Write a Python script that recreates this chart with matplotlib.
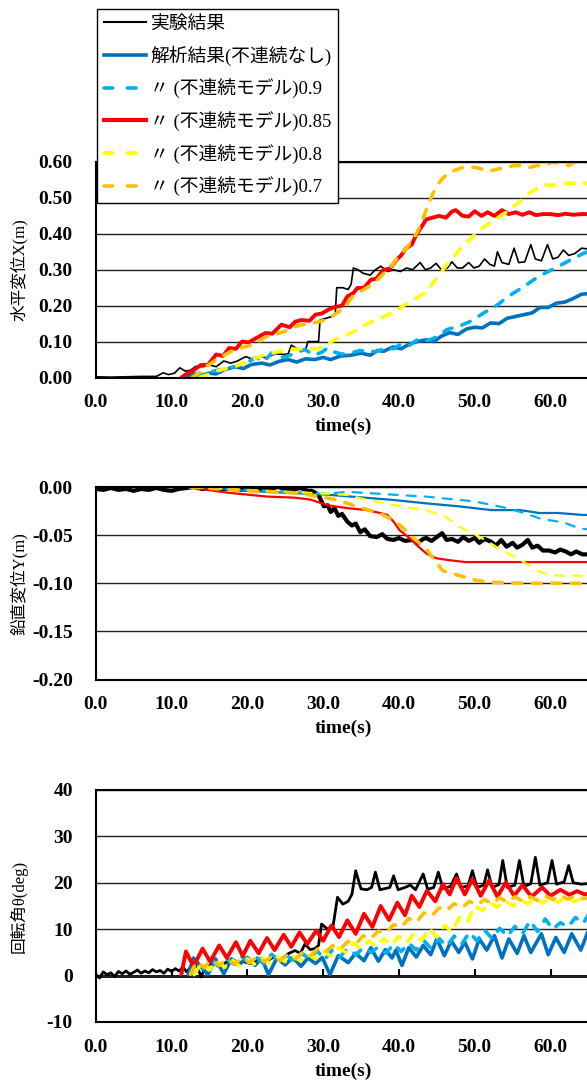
import matplotlib
matplotlib.use('Agg')
import matplotlib.pyplot as plt
from matplotlib.lines import Line2D
from matplotlib.font_manager import FontProperties
from matplotlib.ticker import FormatStrFormatter, MultipleLocator

plt.rcParams['axes.unicode_minus'] = False
plt.rcParams['lines.scale_dashes'] = False

#%% 水平変位 X(m)  (time, value)
x_exp = [(0, 0.002), (2, 0.001), (4, 0.002), (6, 0.003), (8, 0.003), (8.9, 0.013), (9.6, 0.008),
         (10.4, 0.012), (11.1, 0.027), (11.8, 0.018), (12.5, 0.02), (13.2, 0.031), (14.2, 0.03),
         (15.0, 0.035), (15.9, 0.03), (16.9, 0.046), (17.8, 0.04), (18.6, 0.045), (19.8, 0.058),
         (20.8, 0.05), (21.6, 0.058), (22.5, 0.055), (23.7, 0.066), (24.8, 0.064), (25.4, 0.066),
         (25.8, 0.09), (26.6, 0.08), (27.3, 0.078), (27.7, 0.078), (28.0, 0.1), (28.8, 0.1),
         (29.4, 0.1), (29.6, 0.16), (30.4, 0.165), (31.2, 0.17), (31.6, 0.175), (31.8, 0.25),
         (32.6, 0.25), (33.3, 0.245), (33.7, 0.26), (34.0, 0.305), (34.6, 0.3), (35.3, 0.29),
         (36.2, 0.285), (36.9, 0.3), (37.6, 0.31), (38.5, 0.295), (39.3, 0.3), (40.2, 0.295),
         (41.0, 0.305), (41.8, 0.3), (42.8, 0.32), (43.5, 0.3), (44.2, 0.305), (44.9, 0.318),
         (45.6, 0.3), (46.4, 0.305), (47.0, 0.322), (47.7, 0.305), (48.4, 0.305), (49.2, 0.32),
         (49.9, 0.305), (50.6, 0.31), (51.3, 0.33), (52.0, 0.315), (52.6, 0.31), (53.0, 0.35),
         (53.6, 0.32), (54.5, 0.315), (55.2, 0.36), (55.8, 0.32), (56.6, 0.322), (57.4, 0.37),
         (58.0, 0.33), (58.8, 0.325), (59.6, 0.37), (60.3, 0.33), (61.0, 0.335), (61.7, 0.355),
         (62.4, 0.34), (63.2, 0.345), (64.1, 0.36), (66, 0.355)]
x_none = [(12.0, 0.0), (13.0, 0.01), (14.0, 0.006), (15.0, 0.012), (15.9, 0.01), (17.0, 0.022),
          (18.4, 0.03), (19.5, 0.025), (20.5, 0.036), (21.9, 0.04), (23.0, 0.035), (24.2, 0.045),
          (25.4, 0.05), (26.5, 0.043), (27.7, 0.052), (28.9, 0.05), (30.0, 0.056), (31.0, 0.05),
          (32.3, 0.06), (33.7, 0.062), (35.0, 0.068), (36.2, 0.062), (37.2, 0.075), (38.0, 0.073),
          (39.2, 0.085), (40.3, 0.08), (41.3, 0.092), (42.4, 0.1), (43.6, 0.105), (44.6, 0.1),
          (45.6, 0.115), (46.7, 0.125), (47.8, 0.12), (48.9, 0.135), (50.0, 0.14), (51.0, 0.138),
          (52.1, 0.152), (53.2, 0.15), (54.3, 0.165), (55.4, 0.17), (56.5, 0.175), (57.6, 0.18),
          (58.6, 0.195), (59.7, 0.195), (60.8, 0.207), (61.9, 0.21), (63.0, 0.22), (64.1, 0.232),
          (66, 0.235)]
x_090 = [(13.0, 0.0), (14.5, 0.012), (16.0, 0.02), (17.5, 0.025), (19.0, 0.035), (20.2, 0.045),
         (21.1, 0.055), (22.2, 0.045), (23.2, 0.068), (24.3, 0.055), (25.4, 0.06), (26.5, 0.07),
         (27.6, 0.078), (28.8, 0.062), (29.8, 0.07), (30.6, 0.082), (31.6, 0.07), (32.5, 0.065),
         (33.7, 0.068), (34.8, 0.075), (35.8, 0.073), (37.0, 0.072), (38.3, 0.082), (39.3, 0.08),
         (40.2, 0.092), (41.3, 0.088), (42.4, 0.105), (43.3, 0.1), (44.1, 0.105), (45.2, 0.115),
         (46.3, 0.133), (47.4, 0.14), (48.4, 0.147), (49.3, 0.155), (50.2, 0.166), (51.2, 0.18),
         (52.3, 0.193), (53.2, 0.205), (54.1, 0.221), (55.1, 0.235), (56.2, 0.249), (57.3, 0.265),
         (58.4, 0.281), (59.7, 0.295), (61.0, 0.309), (62.7, 0.328), (64.4, 0.346), (66, 0.36)]
x_085 = [(11.3, 0.0), (12.0, 0.01), (12.9, 0.02), (13.9, 0.035), (14.8, 0.035), (15.9, 0.064),
         (16.8, 0.06), (17.6, 0.082), (18.5, 0.08), (19.3, 0.1), (20.2, 0.098), (21.2, 0.11),
         (22.4, 0.124), (23.3, 0.122), (24.5, 0.147), (25.6, 0.14), (26.3, 0.155), (27.1, 0.16),
         (28.2, 0.158), (29.0, 0.175), (29.8, 0.178), (30.8, 0.19), (31.5, 0.196), (32.5, 0.2),
         (33.2, 0.226), (34.0, 0.235), (34.5, 0.249), (35.4, 0.25), (36.3, 0.272), (37.0, 0.275),
         (38.0, 0.3), (38.8, 0.303), (39.7, 0.328), (40.3, 0.34), (41.0, 0.361), (41.7, 0.37),
         (42.3, 0.398), (43.0, 0.42), (43.6, 0.44), (44.4, 0.445), (45.3, 0.45), (46.2, 0.445),
         (47.0, 0.462), (47.5, 0.466), (48.4, 0.45), (49.2, 0.448), (50.0, 0.463), (50.9, 0.45),
         (51.7, 0.46), (52.6, 0.45), (53.6, 0.466), (54.5, 0.455), (55.4, 0.46), (56.3, 0.453),
         (57.2, 0.46), (58.1, 0.452), (59.0, 0.455), (60.0, 0.455), (61.0, 0.452), (62.0, 0.456),
         (63.0, 0.453), (64.1, 0.455), (66, 0.455)]
x_080 = [(13.7, 0.0), (14.8, 0.008), (15.9, 0.018), (17.1, 0.024), (18.4, 0.031), (19.5, 0.04),
         (20.6, 0.05), (21.9, 0.06), (23.2, 0.068), (24.5, 0.073), (25.8, 0.078), (27.0, 0.08),
         (28.2, 0.08), (29.3, 0.08), (30.4, 0.09), (31.5, 0.105), (32.6, 0.114), (33.7, 0.124),
         (35.6, 0.147), (37.6, 0.166), (39.5, 0.184), (41.1, 0.207), (42.4, 0.222), (43.7, 0.24),
         (44.8, 0.272), (45.8, 0.3), (47.0, 0.33), (48.0, 0.356), (49.3, 0.383), (50.6, 0.411),
         (52.3, 0.434), (53.7, 0.453), (55.4, 0.48), (57.2, 0.513), (58.9, 0.536), (60.7, 0.536),
         (62.4, 0.541), (64.1, 0.541), (66, 0.54)]
x_070 = [(12.7, 0.0), (13.6, 0.012), (14.6, 0.031), (15.6, 0.045), (16.7, 0.059), (17.6, 0.07),
         (18.4, 0.078), (19.5, 0.085), (20.6, 0.09), (21.5, 0.1), (22.4, 0.113), (23.7, 0.12),
         (25.0, 0.129), (26.1, 0.14), (27.2, 0.147), (28.3, 0.15), (29.4, 0.155), (30.3, 0.16),
         (31.5, 0.175), (32.8, 0.194), (33.9, 0.226), (35.0, 0.24), (36.1, 0.254), (37.1, 0.27),
         (38.0, 0.29), (39.0, 0.31), (39.7, 0.33), (40.6, 0.35), (41.5, 0.374), (42.3, 0.4),
         (43.0, 0.43), (43.6, 0.467), (44.5, 0.513), (45.2, 0.54), (45.8, 0.555), (46.6, 0.57),
         (47.5, 0.578), (48.5, 0.585), (50.1, 0.585), (51.0, 0.58), (52.0, 0.575), (53.0, 0.58),
         (54.0, 0.585), (55.2, 0.59), (56.2, 0.59), (57.2, 0.585), (58.3, 0.59), (59.2, 0.59),
         (60.3, 0.6), (61.3, 0.595), (62.4, 0.59), (63.2, 0.6), (64.1, 0.6), (66, 0.6)]

#%% 鉛直変位 Y(m)
y_exp = [(0, -0.002), (1, -0.003), (2, -0.001), (3, -0.003), (4, -0.002), (5, -0.004), (6, -0.002),
         (7, -0.003), (8, -0.001), (9, -0.003), (10, -0.004), (11, -0.002), (12, -0.001), (13, 0.0),
         (14, -0.002), (15, -0.001), (16, -0.003), (17, -0.002), (18, -0.001), (19, -0.003),
         (20, -0.002), (21, -0.001), (22, -0.003), (23, -0.002), (24, 0.0), (25, -0.002),
         (26, -0.003), (27, -0.001), (28, -0.004), (28.5, -0.004), (29, -0.006), (29.5, -0.01),
         (30.1, -0.02), (30.6, -0.019), (31.0, -0.026), (31.5, -0.022), (32.0, -0.03), (32.5, -0.028),
         (33.2, -0.036), (33.8, -0.04), (34.3, -0.038), (34.9, -0.047), (35.5, -0.044), (36.2, -0.051),
         (37.1, -0.052), (37.8, -0.049), (38.5, -0.054), (39.3, -0.055), (40.0, -0.053), (40.8, -0.056),
         (41.8, -0.055), (42.5, -0.058), (43.2, -0.054), (43.6, -0.053), (44.3, -0.056), (45.0, -0.052),
         (45.7, -0.048), (46.3, -0.055), (47.0, -0.054), (47.8, -0.057), (48.5, -0.052), (49.2, -0.056),
         (50.0, -0.053), (50.6, -0.058), (51.3, -0.054), (52.2, -0.057), (52.8, -0.061), (53.5, -0.055),
         (54.2, -0.062), (55.0, -0.058), (55.6, -0.063), (56.3, -0.06), (57.0, -0.055), (57.6, -0.063),
         (58.3, -0.061), (59.0, -0.066), (59.8, -0.066), (60.6, -0.068), (61.3, -0.065), (62.0, -0.067),
         (62.7, -0.07), (63.4, -0.067), (64.2, -0.07), (66, -0.07)]
y_none = [(12.3, 0.0), (20, -0.004), (30.6, -0.008), (39.3, -0.0135), (43.6, -0.017), (47.8, -0.02),
          (52.2, -0.024), (56, -0.024), (58.5, -0.027), (61, -0.027), (64.2, -0.029), (66, -0.029)]
y_090 = [(12.5, 0.0), (20, -0.003), (28, -0.006), (30.6, -0.007), (33.2, -0.005), (39.3, -0.008),
         (43.6, -0.01), (50.0, -0.015), (54.3, -0.022), (56.5, -0.027), (58.7, -0.033), (61.8, -0.037),
         (63.8, -0.043), (66, -0.045)]
y_085 = [(12.0, 0.0), (17.5, -0.006), (22.7, -0.01), (26.1, -0.011), (28.3, -0.013), (30.6, -0.019),
         (33.2, -0.022), (35.8, -0.024), (37.5, -0.027), (38.5, -0.029), (39.3, -0.036), (40.1, -0.045),
         (41.4, -0.053), (42.3, -0.06), (43.6, -0.069), (44.9, -0.074), (46.6, -0.076), (48.8, -0.078),
         (55, -0.078), (66, -0.078)]
y_080 = [(13, 0.0), (20, -0.003), (28, -0.006), (30.6, -0.007), (33.2, -0.0083), (35.8, -0.0135),
         (39.3, -0.0187), (43.6, -0.024), (46.2, -0.031), (47.9, -0.041), (49.7, -0.048), (51.4, -0.055),
         (53.2, -0.064), (54.9, -0.071), (56.7, -0.079), (58.0, -0.086), (59.3, -0.09), (61.0, -0.092),
         (63.6, -0.092), (66, -0.093)]
y_070 = [(12.5, 0.0), (20, -0.004), (26, -0.006), (28, -0.008), (29.5, -0.01), (31.9, -0.0135),
         (34.5, -0.0205), (37.5, -0.0274), (39.3, -0.0344), (40.6, -0.043), (41.9, -0.053),
         (43.6, -0.064), (44.5, -0.074), (45.8, -0.087), (48.4, -0.093), (50.2, -0.097), (52.3, -0.099),
         (56.7, -0.1), (63.6, -0.1), (66, -0.102)]

#%% 回転角 θ(deg)
r_exp = [(0, 0.3), (0.5, -0.5), (1, 0.8), (1.5, 0.2), (2, 0.6), (2.5, -0.2), (3, 0.9), (3.5, 0.4),
         (4, 1.0), (4.5, 0.3), (5, 0.7), (5.5, 1.2), (6, 0.5), (6.5, 1.0), (7, 0.6), (7.5, 1.3),
         (8, 0.8), (8.5, 1.1), (9, 0.5), (9.5, 1.4), (10, 0.9), (10.5, 1.5), (11, 1.0), (11.5, 1.8),
         (12, 0.8), (12.5, 1.8), (13, 2.5), (13.5, 1.5), (13.9, -0.3), (14.5, 2.0), (15.5, 3.0),
         (16.5, 2.2), (17.5, 3.2), (18.5, 2.4), (19.5, 3.0), (20.5, 2.6), (21.5, 3.5), (22.4, 3.0),
         (23.5, 4.0), (24.5, 3.6), (25.5, 4.8), (26.3, 5.4), (27.0, 4.8), (27.6, 6.8), (28.3, 5.6),
         (28.9, 5.8), (29.4, 6.5), (29.8, 11.1), (30.6, 10.0), (31.3, 10.5), (31.9, 16.9), (32.6, 15.4),
         (33.3, 16.0), (33.8, 17.5), (34.3, 22.6), (35.0, 18.7), (35.8, 18.5), (36.4, 19.0), (36.9, 22.3),
         (37.5, 18.5), (38.3, 18.8), (38.8, 19.0), (39.3, 21.5), (39.9, 18.5), (40.8, 19.0), (41.5, 19.5),
         (42.2, 18.5), (43.2, 21.9), (43.8, 18.6), (44.6, 19.0), (45.2, 22.3), (45.8, 18.8), (46.8, 19.2),
         (47.6, 21.9), (48.2, 19.0), (49.1, 19.3), (49.7, 22.6), (50.3, 19.0), (51.2, 19.5), (51.7, 22.8),
         (52.3, 19.0), (53.2, 19.6), (53.7, 24.8), (54.3, 19.0), (55.3, 19.5), (55.9, 24.8), (56.5, 19.2),
         (57.4, 19.8), (58.0, 25.5), (58.6, 19.5), (59.6, 20.0), (60.2, 24.8), (60.8, 19.7), (61.8, 20.2),
         (62.4, 23.7), (63.0, 20.0), (64.1, 19.7), (66, 20.0)]
r_none = [(12.2, 0.2), (12.9, 3.8), (14.8, 0.2), (15.8, 3.6), (16.9, 0.4), (17.9, 3.6), (19.0, 2.5),
          (20.0, 3.9), (21.0, 2.2), (21.9, 3.7), (22.8, 0.2), (23.9, 3.8), (25.0, 2.3), (26.0, 3.9),
          (27.1, 2.0), (28.0, 3.8), (29.0, 2.6), (29.9, 3.9), (30.9, 0.2), (32.0, 4.3), (33.3, 2.8),
          (34.3, 4.8), (35.4, 3.2), (36.3, 6.0), (37.3, 3.1), (38.2, 5.6), (39.1, 3.8), (39.6, 5.5),
          (40.4, 2.2), (41.3, 6.0), (42.3, 4.0), (43.2, 6.5), (44.2, 4.5), (45.0, 7.9), (46.0, 4.3),
          (46.9, 7.5), (47.9, 5.0), (48.7, 7.2), (49.7, 3.6), (50.6, 7.9), (51.6, 5.5), (52.6, 8.6),
          (53.6, 3.8), (54.5, 7.9), (55.6, 4.8), (56.5, 8.6), (57.4, 5.0), (58.8, 9.0), (59.7, 4.5),
          (60.7, 8.2), (61.8, 5.0), (62.8, 9.0), (64.0, 5.5), (64.9, 9.3), (66, 6.0)]
r_090 = [(12.5, 0.3), (13.3, 3.0), (14.3, 1.5), (15.2, 3.5), (16.2, 2.0), (17.2, 3.6), (18.2, 2.5),
         (19.2, 4.2), (20.2, 2.8), (21.2, 4.0), (22.2, 2.5), (23.2, 4.6), (24.2, 3.2), (25.2, 4.3),
         (26.2, 3.0), (27.2, 4.8), (28.2, 3.6), (29.2, 5.4), (30.2, 3.4), (31.2, 5.5), (32.2, 4.0),
         (33.2, 5.8), (34.3, 4.5), (35.3, 6.0), (36.3, 5.0), (37.3, 6.2), (38.3, 4.8), (39.3, 6.8),
         (40.3, 5.2), (41.3, 7.0), (42.3, 5.5), (43.3, 7.5), (44.3, 5.8), (45.3, 8.0), (46.3, 6.3),
         (47.3, 8.5), (48.3, 6.8), (49.3, 9.3), (50.3, 7.5), (51.3, 9.8), (52.3, 8.0), (53.3, 10.2),
         (54.3, 8.5), (55.3, 10.6), (56.3, 9.0), (57.3, 11.8), (58.3, 9.5), (59.3, 12.2), (60.3, 10.0),
         (61.3, 11.4), (62.3, 10.5), (63.3, 12.5), (64.3, 11.2), (65.3, 14.0)]
r_085 = [(11.3, 0.3), (11.9, 5.2), (12.9, 2.0), (14.1, 5.8), (15.1, 3.0), (16.3, 6.5), (17.3, 3.8),
         (18.5, 7.2), (19.4, 4.2), (20.4, 7.5), (21.5, 4.8), (22.6, 8.1), (23.6, 5.5), (24.8, 8.8),
         (25.8, 6.2), (26.9, 9.3), (27.9, 6.8), (29.1, 9.7), (30.0, 7.5), (31.1, 10.8), (32.1, 8.3),
         (33.2, 11.9), (34.3, 9.0), (35.4, 13.3), (36.5, 10.5), (37.6, 15.0), (38.7, 12.0), (39.8, 15.7),
         (40.8, 13.0), (41.7, 17.2), (42.7, 14.8), (43.7, 18.3), (44.8, 16.0), (45.8, 19.7), (46.7, 17.5),
         (47.6, 21.0), (48.7, 17.5), (49.7, 20.8), (50.8, 17.2), (51.9, 20.5), (53.0, 17.0), (54.1, 20.1),
         (55.2, 17.2), (56.3, 19.5), (57.5, 17.0), (58.9, 19.0), (60.0, 17.2), (61.3, 18.5), (62.5, 17.4),
         (63.5, 18.2), (64.5, 17.5), (66, 18.0)]
r_080 = [(13, 0.2), (14, 2.8), (15, 1.2), (16, 3.2), (17, 1.8), (18, 3.4), (19, 2.0), (20, 3.6),
         (21, 2.4), (22, 3.8), (23, 2.6), (24, 4.0), (25, 3.0), (26, 4.2), (27, 3.2), (28, 4.6),
         (29, 3.6), (30, 5.4), (31, 4.2), (32, 6.0), (33, 5.0), (34, 7.0), (35, 5.8), (36, 7.5),
         (37, 6.2), (38, 8.0), (39, 6.5), (40, 8.5), (41, 7.0), (42, 9.2), (43, 7.6), (44, 10.2),
         (45, 8.3), (46, 10.8), (47, 9.5), (48, 12.6), (49, 11.5), (50, 15.0), (51, 14.0), (52, 15.7),
         (53, 14.8), (54, 16.2), (55, 15.0), (56, 16.4), (57, 15.5), (58, 16.8), (59, 15.6), (60, 16.9),
         (61, 15.8), (62, 17.0), (63, 16.0), (64, 16.4), (66, 16.6)]
r_070 = [(12.5, 0.3), (13.3, 3.0), (14.3, 1.8), (15.3, 3.4), (16.3, 2.2), (17.3, 3.6), (18.3, 2.5),
         (19.3, 3.8), (20.3, 2.8), (21.3, 4.0), (22.3, 3.0), (23.3, 4.2), (24.3, 3.2), (25.3, 4.5),
         (26.3, 3.6), (27.3, 5.0), (28.3, 4.2), (29.3, 5.8), (30.3, 5.0), (31.3, 6.5), (32.3, 5.8),
         (33.3, 7.4), (34.3, 6.8), (35.3, 8.6), (36.3, 8.0), (37.3, 9.6), (38.3, 9.2), (39.3, 11.0),
         (40.3, 10.4), (41.3, 12.3), (42.3, 11.5), (43.3, 13.5), (44.3, 12.8), (45.3, 14.6), (46.3, 14.0),
         (47.3, 15.5), (48.3, 14.6), (49.3, 16.0), (50.3, 15.2), (51.3, 16.4), (52.3, 15.5), (53.3, 16.8),
         (54.3, 15.8), (55.3, 17.0), (56.3, 16.0), (57.3, 17.0), (58.3, 16.2), (59.3, 17.2), (60.3, 16.4),
         (61.3, 17.2), (62.3, 16.5), (63.3, 17.2), (64.3, 16.6), (66, 17.0)]

labels = ['実験結果', '解析結果(不連続なし)', '〃 (不連続モデル)0.9',
          '〃 (不連続モデル)0.85', '〃 (不連続モデル)0.8', '〃 (不連続モデル)0.7']
colors = ['#000000', '#0070C0', '#00B0F0', '#FF0000', '#FFFF00', '#FFC000']
dashed = [False, False, True, False, True, True]

panels = [
    dict(data=[x_exp, x_none, x_090, x_085, x_080, x_070], lw=[1.2, 2.6, 2.6, 2.8, 2.6, 2.6],
         ylim=(0, 0.6), step=0.1, fmt='%.2f', ylabel='水平変位X(m)'),
    dict(data=[y_exp, y_none, y_090, y_085, y_080, y_070], lw=[3.0, 1.6, 1.6, 1.6, 1.6, 2.6],
         ylim=(-0.2, 0.0), step=0.05, fmt='%.2f', ylabel='鉛直変位Y(m)'),
    dict(data=[r_exp, r_none, r_090, r_085, r_080, r_070], lw=[2.0, 2.6, 2.6, 2.8, 2.6, 2.6],
         ylim=(-10, 40), step=10, fmt='%d', ylabel='回転角θ(deg)'),
]

W, H = 587, 1085
x_left, x_right = 95.7, 590.3
boxes = [(162, 377.5), (487, 679.5), (790, 1022)]
t_max = (x_right - x_left) / 7.58

tick_font = FontProperties(family='Liberation Serif', weight='bold', size=14)
jp_font = FontProperties(family=['Liberation Serif', 'Noto Sans CJK JP'], size=12)

fig = plt.figure(figsize=(W / 100, H / 100), dpi=100)

for p, (top, bottom) in zip(panels, boxes):
    ax = fig.add_axes([x_left / W, 1 - bottom / H, (x_right - x_left) / W, (bottom - top) / H])
    for d, c, lw, ds in zip(p['data'], colors, p['lw'], dashed):
        t = [a for a, b in d]
        v = [b for a, b in d]
        if ds:
            gap = 7.5 if lw > 2 else 6.5
            ax.plot(t, v, color=c, lw=lw, ls=(0, (6.5, gap)), dash_capstyle='round')
        else:
            ax.plot(t, v, color=c, lw=lw, solid_joinstyle='round', solid_capstyle='round')
    ax.set_xlim(0, t_max)
    ax.set_ylim(*p['ylim'])
    ax.xaxis.set_major_locator(MultipleLocator(10))
    ax.xaxis.set_major_formatter(FormatStrFormatter('%.1f'))
    ax.yaxis.set_major_locator(MultipleLocator(p['step']))
    ax.yaxis.set_major_formatter(FormatStrFormatter(p['fmt']))
    ax.grid(axis='y', color='#202020', lw=1.0)
    ax.set_axisbelow(True)
    ax.tick_params(length=0)
    ax.tick_params(axis='x', pad=12)
    ax.tick_params(axis='y', pad=16.5)
    for lab in ax.get_xticklabels() + ax.get_yticklabels():
        lab.set_fontproperties(tick_font)
    ax.spines['right'].set_visible(False)
    for s in ['left', 'top', 'bottom']:
        ax.spines[s].set_linewidth(1.5)
    ax.set_xlabel('time(s)', fontproperties=tick_font, labelpad=5)
    ax.set_ylabel(p['ylabel'], fontproperties=jp_font)
    ax.yaxis.set_label_coords(-0.137, 0.5)

# 回転角の 0 の線 (目盛り付き)
zero = ax.secondary_xaxis(0.2)
zero.set_xticks(range(0, 70, 10))
zero.tick_params(direction='in', length=5, width=1.5, labelbottom=False)
zero.spines['bottom'].set_linewidth(2.0)

handles = []
for c, ds, lw in zip(colors, dashed, [1.5, 2.6, 2.6, 3.0, 2.6, 2.6]):
    if ds:
        handles.append(Line2D([], [], color=c, lw=lw, ls=(0, (6.3, 10.5)), dash_capstyle='round'))
    else:
        handles.append(Line2D([], [], color=c, lw=lw))
leg = fig.legend(handles, labels, loc='upper left', bbox_to_anchor=(97 / W, 1 - 9 / H),
                 borderaxespad=0, frameon=True, fancybox=False, edgecolor='black', framealpha=1,
                 prop=FontProperties(family=['Liberation Serif', 'Noto Sans CJK JP'], size=13.5),
                 handlelength=2.25, handletextpad=0.25, borderpad=0.35, labelspacing=0.68)
leg.get_frame().set_linewidth(1.0)

fig.savefig('out.png', dpi=100)
